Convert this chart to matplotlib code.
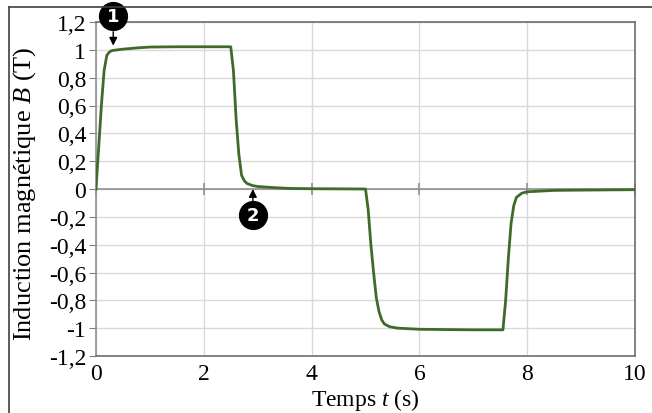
import matplotlib.pyplot as plt
from matplotlib.lines import Line2D

plt.rcParams['font.family'] = ['Liberation Serif', 'DejaVu Serif']
plt.rcParams['mathtext.fontset'] = 'custom'
plt.rcParams['mathtext.it'] = 'Liberation Serif:italic'
plt.rcParams['mathtext.rm'] = 'Liberation Serif'

# temps (s) et induction B (T)
t = [0, 0.05, 0.1, 0.15, 0.2, 0.25, 0.3, 0.5, 0.8, 1.0, 1.5, 2.0, 2.5,
     2.55, 2.6, 2.65, 2.7, 2.75, 2.8, 2.9, 3.0, 3.3, 3.6, 4.0, 5.0,
     5.05, 5.1, 5.15, 5.2, 5.25, 5.3, 5.35, 5.45, 5.6, 6.0, 7.0, 7.55,
     7.6, 7.65, 7.7, 7.75, 7.8, 7.9, 8.0, 8.5, 9.0, 10.0]
B = [0, 0.3, 0.6, 0.85, 0.96, 0.985, 0.995, 1.005, 1.015, 1.02, 1.022, 1.022, 1.022,
     0.85, 0.5, 0.25, 0.1, 0.06, 0.04, 0.025, 0.018, 0.01, 0.004, 0.002, 0.0,
     -0.15, -0.4, -0.6, -0.78, -0.88, -0.94, -0.97, -0.99, -1.0, -1.008, -1.012, -1.012,
     -0.8, -0.5, -0.25, -0.12, -0.06, -0.03, -0.02, -0.01, -0.008, -0.005]

xticks = [0, 2, 4, 6, 8, 10]
yticks = [1.2, 1, 0.8, 0.6, 0.4, 0.2, 0, -0.2, -0.4, -0.6, -0.8, -1, -1.2]
markers = [("1", 0.32, 1.03, 1.245), ("2", 2.91, 0.0, -0.19)]

fig = plt.figure(figsize=(6.52, 4.14), dpi=100)
ax = fig.add_axes([96/652, 1 - 357/414, (635 - 96)/652, (357 - 23)/414])

ax.set_xlim(0, 10)
ax.set_ylim(-1.2, 1.2)
ax.set_xticks(xticks)
ax.set_yticks(yticks)
ax.set_xticklabels([str(v) for v in xticks])
ax.set_yticklabels([f"{v:g}".replace(".", ",") for v in yticks])
ax.grid(True, color="#d9d9d9", lw=1)
ax.set_axisbelow(True)
ax.tick_params(axis="x", length=0, labelsize=17, pad=5)
ax.tick_params(axis="y", length=5, color="#808080", labelsize=17, pad=2)
for s in ax.spines.values():
    s.set_color("#6e6e6e")
    s.set_linewidth(1.2)
ax.spines["left"].set_color("#909090")

# axe horizontal a B = 0 avec ses graduations
ax.axhline(0, color="#909090", lw=1.2, zorder=2)
ax.plot(xticks, [0] * len(xticks), ls="none", marker="|", ms=8,
        color="#909090", mew=1.2, zorder=2, clip_on=False)

ax.plot(t, B, color="#3f6a2a", lw=2, zorder=3)

for lab, tx, tip, cy in markers:
    up = cy < tip
    base = tip - 0.1 if up else tip + 0.1
    ax.annotate("", xy=(tx, tip), xytext=(tx, base),
                arrowprops=dict(arrowstyle="-|>", color="black", lw=1,
                                mutation_scale=12, shrinkA=0, shrinkB=0),
                annotation_clip=False, zorder=5)
    ax.plot([tx], [cy], "o", ms=20, color="black", clip_on=False, zorder=5)
    ax.text(tx, cy, lab, color="white", fontsize=13, fontweight="bold",
            ha="center", va="center", zorder=6, family="DejaVu Sans")

ax.set_xlabel("Temps $t$ (s)", fontsize=17)
ax.xaxis.set_label_coords(0.5, -(387 - 357) / (357 - 23))
ax.set_ylabel("Induction magnétique $B$ (T)", fontsize=19)
ax.yaxis.set_label_coords(-(96 - 38) / (635 - 96), 0.49)

# bordure de la zone de graphique
fig.add_artist(Line2D([9/652, 9/652], [0, 1 - 8/414], color="#404040", lw=1.2))
fig.add_artist(Line2D([9/652, 1], [1 - 8/414, 1 - 8/414], color="#404040", lw=1.2))

fig.savefig("out.png", dpi=100)
